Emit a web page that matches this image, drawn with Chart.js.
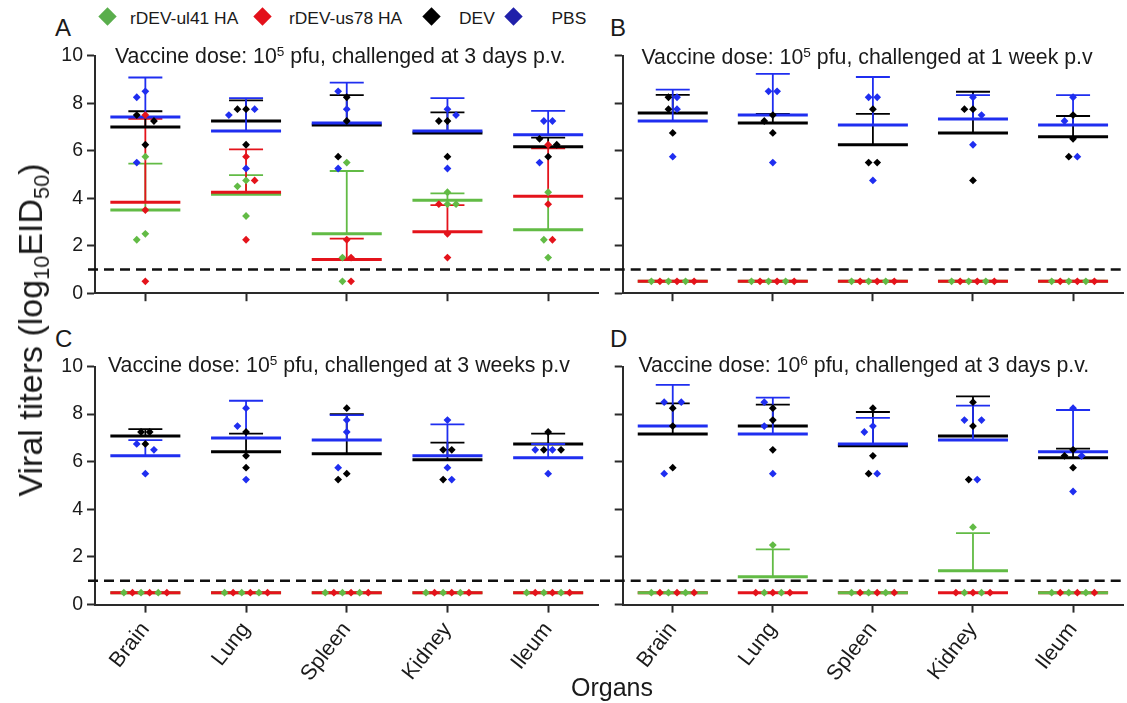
<!DOCTYPE html>
<html>
<head>
<meta charset="utf-8">
<title>Viral titers by organ</title>
<script src="https://cdn.jsdelivr.net/npm/chart.js@4.4.1/dist/chart.umd.min.js"></script>
<style>
  html, body { margin:0; padding:0; background:#ffffff; }
  body { position:relative; width:1127px; height:703px; overflow:hidden;
         font-family:"Liberation Sans", Arial, Helvetica, sans-serif; color:#1a1a1a; }
  canvas { position:absolute; }
  .txt { position:absolute; white-space:nowrap; line-height:1; }
  .dia { position:absolute; width:13px; height:13px; transform:rotate(45deg); }
  .sup { font-size:0.64em; position:relative; top:-0.5em; }
  .sub { font-size:0.64em; position:relative; top:0.3em; }
</style>
</head>
<body>
<!-- legend -->
<div class="dia" style="left:101.2px;top:10.2px;background:#5aae4c"></div>
<div class="txt" style="left:130px;top:9.6px;font-size:17.4px">rDEV-ul41 HA</div>
<div class="dia" style="left:256.2px;top:10.2px;background:#e3101a"></div>
<div class="txt" style="left:289px;top:9.6px;font-size:17.4px">rDEV-us78 HA</div>
<div class="dia" style="left:425.2px;top:10.2px;background:#000000"></div>
<div class="txt" style="left:459px;top:9.6px;font-size:17.4px">DEV</div>
<div class="dia" style="left:506.5px;top:10.2px;background:#2020aa"></div>
<div class="txt" style="left:551.5px;top:9.6px;font-size:17.4px">PBS</div>

<!-- panel letters -->
<div class="txt" style="left:55px;top:15.7px;font-size:24px">A</div>
<div class="txt" style="left:610px;top:15.7px;font-size:24px">B</div>
<div class="txt" style="left:55px;top:326.5px;font-size:24px">C</div>
<div class="txt" style="left:610px;top:326.5px;font-size:24px">D</div>

<canvas id="cA"></canvas>
<canvas id="cB"></canvas>
<canvas id="cC"></canvas>
<canvas id="cD"></canvas>

<!-- panel titles -->
<div class="txt" style="left:115px;top:46px;font-size:21.3px">Vaccine dose: 10<span class="sup">5</span> pfu, challenged at 3 days p.v.</div>
<div class="txt" style="left:641.5px;top:47px;font-size:21.3px">Vaccine dose: 10<span class="sup">5</span> pfu, challenged at 1 week p.v</div>
<div class="txt" style="left:108px;top:354.7px;font-size:21.3px">Vaccine dose: 10<span class="sup">5</span> pfu, challenged at 3 weeks p.v</div>
<div class="txt" style="left:638.5px;top:354.7px;font-size:21.3px">Vaccine dose: 10<span class="sup">6</span> pfu, challenged at 3 days p.v.</div>

<!-- axis titles -->
<div class="txt" style="left:30px;top:330px;font-size:34px;transform:translate(-50%,-50%) rotate(-90deg);">Viral titers (log<span class="sub">10</span>EID<span class="sub">50</span>)</div>
<div class="txt" style="left:612px;top:674.8px;font-size:25px;transform:translateX(-50%);">Organs</div>

<script>
// ---------------- data (log10 EID50, 3 birds per group) ----------------
const organs = ['Brain', 'Lung', 'Spleen', 'Kidney', 'Ileum'];
const groupNames = ['rDEV-ul41 HA', 'rDEV-us78 HA', 'DEV', 'PBS'];
const yTicks = [0, 2, 4, 6, 8, 10];
const detectionLimit = 1;

// A: 10^5 pfu, challenged at 3 days p.v.
const A_ul41 = [[5.75, 2.5, 2.25], [4.75, 4.5, 3.25], [5.5, 1.5, 0.5], [4.25, 3.75, 3.75], [4.25, 2.25, 1.5]];
const A_us78 = [[7.5, 3.5, 0.5], [5.75, 4.75, 2.25], [2.25, 1.5, 0.5], [3.75, 2.5, 1.5], [6.25, 3.75, 2.25]];
const A_dev  = [[7.5, 7.25, 6.25], [7.75, 7.75, 6.25], [8.25, 7.25, 5.75], [7.25, 7.25, 5.75], [6.5, 6.25, 5.75]];
const A_pbs  = [[8.5, 8.25, 5.5], [7.75, 7.5, 5.25], [8.5, 7.75, 5.25], [7.75, 7.5, 5.25], [7.25, 7.25, 5.5]];

// B: 10^5 pfu, challenged at 1 week p.v
const B_ul41 = [[0.5, 0.5, 0.5], [0.5, 0.5, 0.5], [0.5, 0.5, 0.5], [0.5, 0.5, 0.5], [0.5, 0.5, 0.5]];
const B_us78 = [[0.5, 0.5, 0.5], [0.5, 0.5, 0.5], [0.5, 0.5, 0.5], [0.5, 0.5, 0.5], [0.5, 0.5, 0.5]];
const B_dev  = [[8.25, 7.75, 6.75], [7.5, 7.25, 6.75], [7.75, 5.5, 5.5], [7.75, 7.75, 4.75], [7.5, 6.5, 5.75]];
const B_pbs  = [[8.25, 7.75, 5.75], [8.5, 8.5, 5.5], [8.25, 8.25, 4.75], [8.25, 7.5, 6.25], [8.25, 7.25, 5.75]];

// C: 10^5 pfu, challenged at 3 weeks p.v
const C_ul41 = [[0.5, 0.5, 0.5], [0.5, 0.5, 0.5], [0.5, 0.5, 0.5], [0.5, 0.5, 0.5], [0.5, 0.5, 0.5]];
const C_us78 = [[0.5, 0.5, 0.5], [0.5, 0.5, 0.5], [0.5, 0.5, 0.5], [0.5, 0.5, 0.5], [0.5, 0.5, 0.5]];
const C_dev  = [[7.25, 7.25, 6.75], [7.25, 6.25, 5.75], [8.25, 5.5, 5.25], [6.5, 6.5, 5.25], [7.25, 6.5, 6.5]];
const C_pbs  = [[6.75, 6.5, 5.5], [8.25, 7.5, 5.25], [7.75, 7.25, 5.75], [7.75, 5.75, 5.25], [6.5, 6.5, 5.5]];

// D: 10^6 pfu, challenged at 3 days p.v.
const D_ul41 = [[0.5, 0.5, 0.5], [2.5, 0.5, 0.5], [0.5, 0.5, 0.5], [3.25, 0.5, 0.5], [0.5, 0.5, 0.5]];
const D_us78 = [[0.5, 0.5, 0.5], [0.5, 0.5, 0.5], [0.5, 0.5, 0.5], [0.5, 0.5, 0.5], [0.5, 0.5, 0.5]];
const D_dev  = [[8.25, 7.5, 5.75], [8.25, 7.75, 6.5], [8.25, 6.25, 5.5], [8.5, 7.5, 5.25], [6.5, 6.25, 5.75]];
const D_pbs  = [[8.5, 8.5, 5.5], [8.5, 7.5, 5.5], [7.5, 7.25, 5.5], [7.75, 7.75, 5.25], [8.25, 6.25, 4.75]];

// ---------------- styling / layout ----------------
const FONT = '"Liberation Sans", Arial, Helvetica, sans-serif';
const AXIS = '#2a2a2a';
const COLORS = ['#62bb45', '#e4131b', '#000000', '#1f2ef0'];
const PX_X = 100.7, PX_Y = 23.75;   // approx pixels per unit, for point spreading
const STEP = 8.6, MIN_D = 8;         // swarm spacing (px)

const panels = [
  { id: 'cA', data: [A_ul41, A_us78, A_dev, A_pbs], lineOrder: [0, 1, 2, 3], yLabels: true,  xLabels: false,
    box: { x: 0,   y: 40,  w: 618, h: 266 }, area: { l: 95,    r: 598.5, t: 55.7,  b: 293.2 }, dash: [-7, 16] },
  { id: 'cB', data: [B_ul41, B_us78, B_dev, B_pbs], lineOrder: [0, 1, 2, 3], yLabels: false, xLabels: false,
    box: { x: 603, y: 40,  w: 524, h: 266 }, area: { l: 622.7, r: 1127,  t: 55.7,  b: 293.2 }, dash: [-8, 0] },
  { id: 'cC', data: [C_ul41, C_us78, C_dev, C_pbs], lineOrder: [0, 1, 2, 3], yLabels: true,  xLabels: true,
    box: { x: 0,   y: 352, w: 618, h: 351 }, area: { l: 95,    r: 598.5, t: 366.5, b: 604.6 }, dash: [-7, 16] },
  { id: 'cD', data: [D_ul41, D_us78, D_dev, D_pbs], lineOrder: [1, 0, 2, 3], yLabels: false, xLabels: true,
    box: { x: 603, y: 352, w: 524, h: 351 }, area: { l: 622.7, r: 1127,  t: 366.5, b: 604.6 }, dash: [-8, 0] }
];
const PANEL_BY_ID = {};
panels.forEach(p => { PANEL_BY_ID[p.id] = p; });

function stats(v) {
  const n = v.length;
  const m = v.reduce((a, b) => a + b, 0) / n;
  const sd = n > 1 ? Math.sqrt(v.reduce((a, b) => a + (b - m) * (b - m), 0) / (n - 1)) : 0;
  return { m, sd };
}

// beeswarm placement of all points of one organ (all groups together)
function swarm(groupVals) {
  const pts = [];
  groupVals.forEach((vals, g) => vals.forEach((v, i) => pts.push({ g, i, v, py: v * PX_Y, k: 0 })));
  const placed = [];
  for (const p of pts) {
    for (let n = 0; n < 60; n++) {
      const k = n === 0 ? 0 : (n % 2 ? -Math.ceil(n / 2) : Math.ceil(n / 2));
      if (placed.every(q => Math.hypot((k - q.k) * STEP, p.py - q.py) >= MIN_D)) { p.k = k; break; }
    }
    placed.push(p);
  }
  const rows = {};
  pts.forEach(p => { (rows[p.v] = rows[p.v] || []).push(p); });
  Object.values(rows).forEach(row => {
    if (row.length < 2) return;
    const isolated = pts.every(q => row.includes(q) || Math.abs(q.py - row[0].py) >= MIN_D);
    if (!isolated) return;
    row.sort((a, b) => a.i - b.i || a.g - b.g);
    row.forEach((p, j) => { p.k = j - (row.length - 1) / 2; });
  });
  return pts;
}

const summaryPlugin = {
  id: 'summary',
  beforeDatasetsDraw(chart) {
    const P = PANEL_BY_ID[chart.canvas.id];
    const { ctx, chartArea: ca } = chart;
    const xs = chart.scales.x, ys = chart.scales.y;
    ctx.save();
    // detection limit
    const yl = ys.getPixelForValue(detectionLimit);
    ctx.setLineDash([10, 6]);
    ctx.lineWidth = 2.5;
    ctx.strokeStyle = '#111111';
    ctx.beginPath();
    ctx.moveTo(ca.left + P.dash[0], yl);
    ctx.lineTo(ca.right + P.dash[1], yl);
    ctx.stroke();
    ctx.setLineDash([]);
    // mean + SD (upper) for each group
    P.lineOrder.forEach(g => {
      organs.forEach((o, oi) => {
        const vals = P.data[g][oi];
        if (!vals || !vals.length) return;
        const s = stats(vals);
        const xc = xs.getPixelForValue(oi);
        const ym = ys.getPixelForValue(s.m);
        ctx.strokeStyle = COLORS[g];
        if (s.sd > 0.001) {
          const yt = ys.getPixelForValue(s.m + s.sd);
          ctx.lineWidth = 1.8;
          ctx.beginPath();
          ctx.moveTo(xc, ym); ctx.lineTo(xc, yt);
          ctx.moveTo(xc - 17, yt); ctx.lineTo(xc + 17, yt);
          ctx.stroke();
        }
        ctx.lineWidth = 3;
        ctx.beginPath();
        ctx.moveTo(xc - 35, ym); ctx.lineTo(xc + 35, ym);
        ctx.stroke();
      });
    });
    ctx.restore();
  }
};

function buildPanel(P) {
  const cv = document.getElementById(P.id);
  cv.width = P.box.w; cv.height = P.box.h;
  cv.style.left = P.box.x + 'px'; cv.style.top = P.box.y + 'px';
  cv.style.width = P.box.w + 'px'; cv.style.height = P.box.h + 'px';
  const pts = [[], [], [], []];
  organs.forEach((o, oi) => {
    swarm(P.data.map(gv => gv[oi])).forEach(p => {
      pts[p.g].push({ x: oi + p.k * STEP / PX_X, y: p.v });
    });
  });
  const yW = P.area.l - P.box.x;
  const xH = P.box.y + P.box.h - P.area.b;
  const pad = { left: 0, top: P.area.t - P.box.y, right: P.box.x + P.box.w - P.area.r, bottom: 0 };
  new Chart(cv, {
    type: 'scatter',
    data: {
      datasets: groupNames.map((name, g) => ({
        label: name, data: pts[g],
        backgroundColor: COLORS[g], borderColor: COLORS[g], borderWidth: 0,
        pointStyle: 'rectRot', pointRadius: 3.9, pointHoverRadius: 3.9
      }))
    },
    options: {
      responsive: false, animation: false, devicePixelRatio: 1, events: [],
      layout: { padding: pad },
      plugins: { legend: { display: false }, tooltip: { enabled: false } },
      scales: {
        x: {
          type: 'linear', min: -0.5, max: 4.5,
          afterBuildTicks: s => { s.ticks = organs.map((_, i) => ({ value: i })); },
          afterFit: s => { s.height = xH; s.paddingLeft = 0; s.paddingRight = 0; },
          ticks: { display: P.xLabels, autoSkip: false, minRotation: 52, maxRotation: 52, padding: 5,
                   color: '#1a1a1a', font: { family: FONT, size: 21.5 }, callback: v => organs[v] },
          grid: { display: true, drawOnChartArea: false, drawTicks: true, tickLength: 8, tickWidth: 2, tickColor: AXIS },
          border: { display: true, color: AXIS, width: 2 }
        },
        y: {
          min: 0, max: 10,
          afterBuildTicks: s => { s.ticks = yTicks.map(v => ({ value: v })); },
          afterFit: s => { s.width = yW; s.paddingTop = 0; s.paddingBottom = 0; },
          ticks: { display: P.yLabels, padding: 4, color: '#1a1a1a', font: { family: FONT, size: 19.5 } },
          grid: { display: true, drawOnChartArea: false, drawTicks: true, tickLength: 8, tickWidth: 2, tickColor: AXIS },
          border: { display: true, color: AXIS, width: 2 }
        }
      }
    },
    plugins: [summaryPlugin]
  });
}

panels.forEach(buildPanel);
</script>
</body>
</html>
